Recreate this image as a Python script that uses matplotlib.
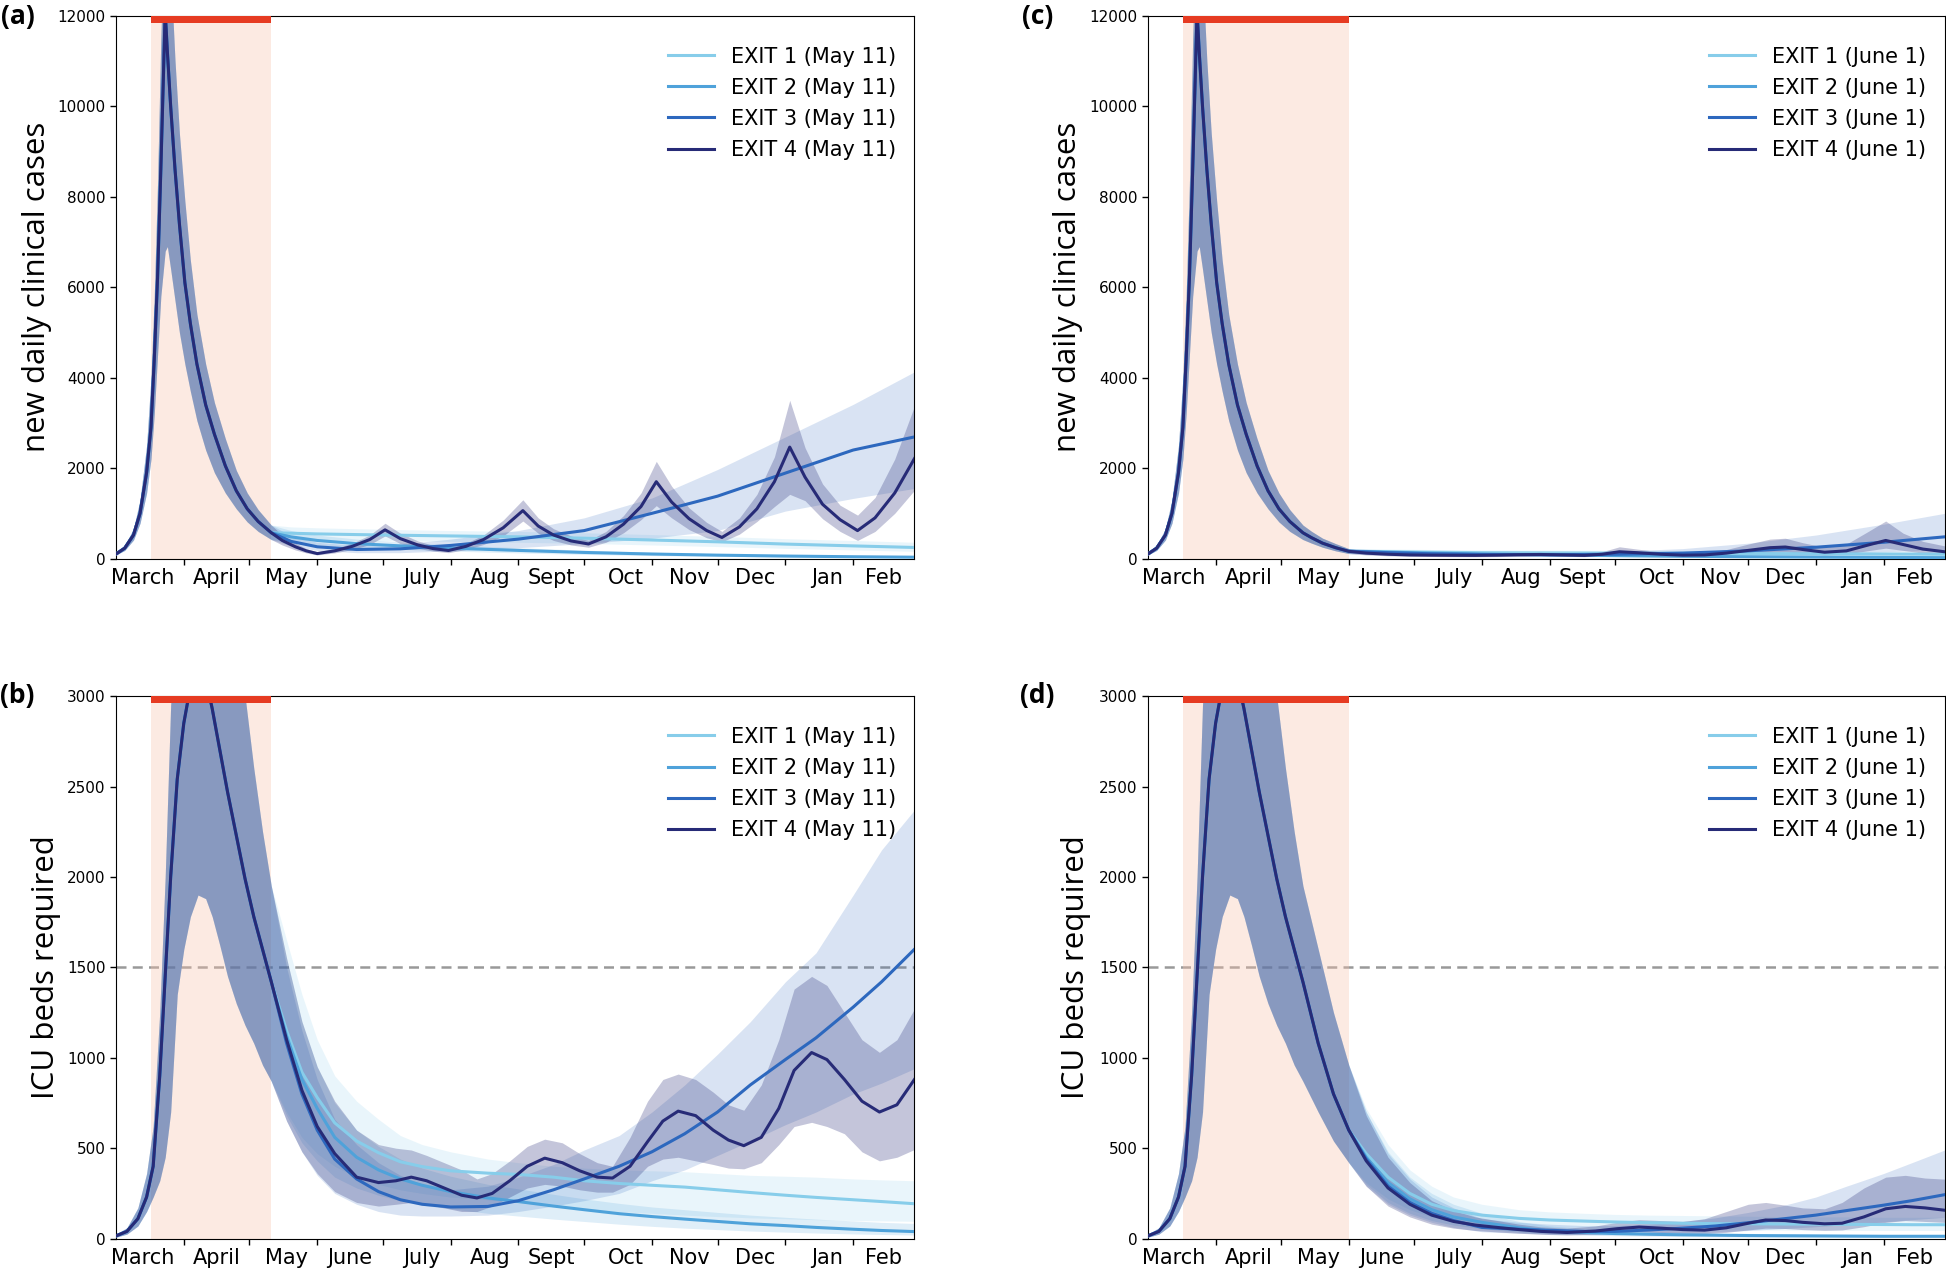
import numpy as np
import matplotlib
matplotlib.use("Agg")
import matplotlib.pyplot as plt

# day 0 = 1 March 2020
lockdown_start = 16
exit_may11 = 71
exit_june1 = 92
icu_capacity = 1500

month_starts = [31, 61, 92, 122, 153, 184, 214, 245, 275, 306, 337]
month_label_days = [12, 46, 78, 107, 140, 171, 199, 233, 262, 292, 325, 351]
month_names = ["March", "April", "May", "June", "July", "Aug", "Sept",
               "Oct", "Nov", "Dec", "Jan", "Feb"]

exit_colors = ["#87cdea", "#4fa2da", "#2d68be", "#272b77"]
band_alpha = [0.18, 0.18, 0.18, 0.27]

# ---------------- new daily clinical cases, common part (to May 11) ----------------
cases_pre_days = [0, 4, 8, 11, 14, 16, 17.5, 19, 20.5, 22.5, 23.5, 25, 27, 29, 31.5,
                  34, 37, 41, 45, 50, 55, 60, 65, 71]
cases_pre = [100, 230, 520, 1000, 1900, 2900, 4400, 6200, 8600, 12100, 11200, 10000,
             8600, 7400, 6100, 5200, 4300, 3400, 2750, 2050, 1500, 1100, 820, 570]
cases_pre_lo = [80, 180, 410, 780, 1450, 2200, 3200, 4500, 5800, 6800, 6900, 6400,
                5700, 5000, 4300, 3700, 3050, 2400, 1900, 1450, 1100, 810, 600, 420]
cases_pre_hi = [125, 290, 660, 1300, 2500, 4000, 5800, 8300, 11500, 14500, 14000,
                13000, 11000, 9400, 7900, 6600, 5400, 4300, 3450, 2650, 1950, 1450,
                1080, 740]
# lockdown continued to June 1
cases_ext_days = [71, 75, 80, 86, 92]
cases_ext = [570, 460, 340, 240, 160]
cases_ext_lo = [420, 340, 250, 170, 110]
cases_ext_hi = [740, 600, 450, 330, 220]

# ---------------- (a) cases, exit May 11 ----------------
a_days = [71, 80, 92, 110, 130, 153, 184, 214, 245, 275, 306, 337, 365]
a_exit1 = [570, 560, 545, 530, 515, 500, 480, 450, 410, 370, 320, 280, 245]
a_exit1_lo = [420, 420, 410, 400, 390, 380, 360, 335, 300, 265, 225, 190, 160]
a_exit1_hi = [740, 700, 680, 660, 640, 620, 600, 570, 530, 490, 440, 400, 360]
a_exit2 = [570, 480, 400, 330, 280, 230, 180, 135, 100, 75, 55, 40, 30]
a_exit2_lo = [420, 360, 300, 245, 205, 165, 125, 92, 66, 48, 35, 25, 18]
a_exit2_hi = [740, 620, 520, 430, 370, 300, 240, 185, 140, 105, 80, 60, 45]
a_exit3 = [570, 380, 260, 200, 215, 290, 430, 618, 1000, 1380, 1890, 2400, 2690]
a_exit3_lo = [420, 280, 180, 130, 130, 170, 240, 330, 450, 620, 1050, 1330, 1550]
a_exit3_hi = [740, 500, 360, 290, 320, 430, 620, 900, 1340, 1970, 2690, 3410, 4130]
a_days4 = [71, 76, 82, 87, 92, 100, 108, 116, 123, 130, 138, 145, 152, 160, 168, 177,
           186, 193, 200, 208, 216, 224, 232, 240, 247, 254, 262, 270, 277, 285, 293,
           301, 308, 315, 323, 331, 339, 347, 356, 365]
a_exit4 = [570, 400, 260, 170, 110, 170, 270, 420, 635, 440, 300, 220, 178, 270, 420,
           680, 1060, 720, 520, 390, 322, 480, 760, 1150, 1700, 1250, 880, 620, 466,
           700, 1100, 1700, 2465, 1800, 1200, 860, 618, 900, 1450, 2210]
a_exit4_lo = [420, 300, 190, 125, 80, 125, 200, 310, 500, 330, 225, 165, 130, 200, 310,
              500, 830, 560, 400, 300, 250, 360, 570, 860, 1170, 900, 640, 460, 370,
              540, 820, 1150, 1420, 1280, 880, 600, 400, 600, 1000, 1510]
a_exit4_hi = [740, 520, 340, 220, 150, 220, 340, 520, 780, 560, 390, 290, 230, 340, 520,
              850, 1300, 900, 660, 500, 400, 600, 950, 1450, 2150, 1600, 1120, 800, 600,
              900, 1420, 2250, 3500, 2450, 1650, 1180, 960, 1350, 2200, 3370]

# ---------------- (c) cases, exit June 1 ----------------
c_days = [92, 110, 130, 153, 184, 214, 245, 275, 306, 337, 365]
c_exit1 = [160, 150, 140, 130, 125, 120, 115, 110, 105, 100, 95]
c_exit1_lo = [110, 100, 92, 85, 80, 75, 70, 66, 62, 58, 55]
c_exit1_hi = [220, 210, 200, 190, 185, 180, 175, 170, 165, 160, 155]
c_exit2 = [160, 140, 120, 100, 80, 65, 50, 40, 32, 25, 20]
c_exit2_lo = [110, 95, 80, 66, 52, 41, 32, 25, 19, 15, 12]
c_exit2_hi = [220, 195, 170, 145, 118, 97, 78, 62, 50, 40, 33]
c_exit3 = [160, 130, 105, 90, 85, 95, 120, 170, 250, 360, 480]
c_exit3_lo = [110, 90, 70, 60, 55, 55, 65, 85, 110, 150, 190]
c_exit3_hi = [220, 180, 150, 130, 130, 160, 220, 340, 520, 760, 1000]
c_days4 = [92, 100, 110, 120, 130, 140, 150, 160, 170, 180, 190, 200, 208, 216, 224,
           235, 245, 255, 265, 275, 285, 292, 300, 310, 320, 330, 338, 346, 355, 365]
c_exit4 = [160, 120, 95, 80, 75, 72, 70, 75, 85, 90, 80, 70, 95, 150, 130, 95, 75, 80,
           120, 180, 240, 255, 200, 140, 170, 300, 400, 310, 210, 150]
c_exit4_lo = [110, 80, 60, 50, 45, 42, 40, 44, 50, 55, 48, 42, 55, 90, 80, 56, 44, 48,
              70, 105, 140, 150, 115, 80, 100, 175, 230, 180, 120, 90]
c_exit4_hi = [220, 170, 135, 115, 105, 100, 100, 110, 125, 135, 120, 105, 150, 260, 210,
              150, 120, 130, 200, 320, 430, 450, 350, 250, 320, 600, 830, 560, 380, 280]

# ---------------- ICU beds, common part (to May 11) ----------------
icu_pre_days = [0, 5, 10, 14, 17, 20, 22.5, 25, 28, 31, 34, 37.5, 41, 44, 47.5, 51, 55,
                59, 63, 67, 71]
icu_pre = [15, 40, 110, 230, 400, 900, 1450, 2000, 2540, 2850, 3050, 3150, 3100, 2930,
           2700, 2470, 2230, 1990, 1780, 1600, 1420]
icu_pre_lo = [8, 25, 70, 150, 230, 320, 450, 700, 1350, 1600, 1780, 1900, 1880, 1780,
              1620, 1450, 1300, 1180, 1080, 960, 870]
icu_pre_hi = [25, 60, 170, 360, 620, 1250, 2000, 2950, 3500, 3800, 3950, 4000, 3950,
              3800, 3600, 3450, 3300, 3000, 2600, 2250, 1950]
icu_ext_days = [71, 78, 85, 92]
icu_ext = [1420, 1080, 800, 600]
icu_ext_lo = [870, 700, 540, 420]
icu_ext_hi = [1950, 1600, 1250, 960]

# ---------------- (b) ICU, exit May 11 ----------------
b_days = [71, 78, 85, 92, 100, 110, 120, 130, 140, 153, 170, 184, 200, 214, 230, 245,
          260, 275, 290, 306, 320, 337, 350, 365]
b_exit1 = [1420, 1150, 920, 780, 640, 540, 475, 425, 398, 375, 362, 355, 340, 320, 305,
           295, 285, 270, 255, 240, 228, 215, 205, 193]
b_exit1_lo = [870, 700, 560, 470, 400, 340, 300, 270, 250, 230, 215, 200, 180, 165, 150,
              140, 130, 122, 115, 110, 105, 100, 98, 96]
b_exit1_hi = [1950, 1650, 1350, 1100, 900, 760, 660, 570, 520, 480, 440, 420, 400, 390,
              380, 375, 370, 360, 350, 345, 340, 330, 325, 320]
b_exit2 = [1420, 1120, 880, 720, 560, 450, 380, 330, 295, 260, 225, 205, 180, 160, 138,
           122, 108, 95, 82, 72, 62, 52, 45, 39]
b_exit2_lo = [870, 680, 530, 430, 340, 280, 240, 210, 185, 165, 140, 125, 108, 95, 80,
              68, 58, 50, 42, 36, 31, 26, 23, 20]
b_exit2_hi = [1950, 1550, 1200, 950, 750, 600, 510, 440, 390, 345, 300, 275, 245, 220,
              195, 175, 160, 145, 130, 118, 108, 98, 90, 84]
b_exit3 = [1420, 1080, 800, 600, 440, 330, 260, 215, 190, 175, 178, 210, 270, 330, 400,
           480, 580, 700, 850, 990, 1110, 1280, 1420, 1600]
b_exit3_lo = [870, 650, 480, 350, 250, 190, 150, 130, 125, 125, 130, 150, 180, 210, 250,
              320, 380, 460, 540, 630, 700, 800, 860, 940]
b_exit3_hi = [1950, 1500, 1150, 880, 660, 520, 420, 350, 300, 270, 290, 340, 410, 490,
              570, 700, 850, 1020, 1200, 1420, 1580, 1900, 2150, 2370]
b_days4 = [71, 78, 85, 92, 100, 110, 120, 128, 135, 142, 150, 158, 165, 172, 180, 188,
           196, 204, 212, 220, 227, 235, 243, 250, 257, 265, 273, 280, 287, 295, 303,
           310, 318, 325, 333, 341, 349, 357, 365]
b_exit4 = [1420, 1100, 820, 620, 470, 340, 310, 320, 340, 320, 280, 240, 225, 250, 320,
           400, 445, 420, 375, 340, 335, 400, 536, 650, 705, 680, 600, 545, 514, 560,
           720, 930, 1029, 990, 880, 760, 700, 740, 880]
b_exit4_lo = [870, 650, 480, 360, 260, 200, 180, 190, 200, 190, 170, 150, 150, 180, 230,
              280, 300, 290, 270, 257, 257, 300, 400, 440, 450, 430, 410, 390, 386, 420,
              520, 620, 643, 620, 580, 480, 430, 450, 493]
b_exit4_hi = [1950, 1550, 1200, 950, 760, 600, 520, 500, 490, 460, 420, 380, 330, 360,
              430, 510, 550, 530, 470, 420, 400, 560, 760, 880, 910, 880, 810, 740, 710,
              850, 1100, 1380, 1450, 1400, 1250, 1100, 1030, 1100, 1270]

# ---------------- (d) ICU, exit June 1 ----------------
d_days = [92, 100, 110, 120, 130, 140, 153, 170, 184, 200, 214, 230, 245, 260, 275, 290,
          306, 320, 337, 350, 365]
d_exit1 = [600, 470, 340, 250, 190, 155, 130, 112, 103, 97, 92, 88, 85, 83, 82, 81, 80,
           79, 78, 77, 77]
d_exit1_lo = [420, 310, 220, 160, 120, 95, 80, 68, 62, 57, 54, 52, 50, 49, 48, 47, 46,
              46, 45, 45, 45]
d_exit1_hi = [960, 720, 520, 380, 290, 230, 190, 160, 148, 140, 134, 130, 128, 126, 124,
              122, 120, 120, 118, 118, 118]
d_exit2 = [600, 450, 310, 220, 160, 120, 90, 60, 42, 34, 28, 24, 21, 19, 17, 16, 15, 14,
           13, 13, 13]
d_exit2_lo = [420, 300, 200, 140, 100, 75, 55, 36, 25, 20, 16, 13, 11, 10, 9, 8, 8, 7, 7,
              7, 7]
d_exit2_hi = [960, 700, 480, 340, 250, 190, 140, 95, 70, 55, 46, 40, 35, 32, 29, 27, 25,
              24, 23, 22, 22]
d_exit3 = [600, 440, 290, 200, 140, 100, 62, 52, 46, 40, 40, 48, 58, 70, 88, 108, 130,
           155, 185, 210, 243]
d_exit3_lo = [420, 290, 190, 130, 90, 62, 38, 30, 25, 22, 22, 25, 30, 36, 45, 55, 66, 78,
              92, 105, 118]
d_exit3_hi = [960, 700, 470, 330, 230, 170, 110, 90, 80, 72, 72, 80, 95, 115, 145, 180,
              230, 290, 360, 420, 490]
d_days4 = [92, 100, 110, 120, 130, 140, 150, 160, 170, 180, 192, 205, 215, 225, 235, 245,
           255, 265, 275, 283, 292, 300, 310, 318, 328, 338, 347, 356, 365]
d_exit4 = [600, 430, 280, 190, 130, 95, 75, 62, 50, 40, 34, 42, 55, 64, 58, 50, 47, 60,
           85, 103, 100, 90, 82, 85, 120, 165, 178, 170, 157]
d_exit4_lo = [420, 290, 180, 120, 80, 58, 45, 37, 30, 24, 20, 25, 32, 38, 34, 30, 28, 35,
              48, 58, 56, 50, 46, 48, 66, 90, 100, 95, 90]
d_exit4_hi = [960, 680, 450, 310, 210, 155, 120, 100, 80, 65, 58, 70, 90, 105, 100, 95,
              110, 150, 190, 200, 185, 170, 165, 200, 280, 340, 350, 335, 329]


def join(d1, v1, d2, v2):
    # second piece starts on the last day of the first one
    return np.r_[d1, d2[1:]], np.r_[v1, v2[1:]]


def extend(pre, ext):
    d, _ = join(pre[0], pre[1], ext[0], ext[1])
    return (d,) + tuple(join(pre[0], p, ext[0], e)[1] for p, e in zip(pre[1:], ext[1:]))


def draw_panel(ax, pre, post, exit_day, exit_name, ymax, ylabel, capacity=None):
    pre_d, pre_m, pre_lo, pre_hi = pre
    if capacity is not None:
        ax.axhline(capacity, color="#999999", ls=(0, (4, 2.5)), lw=1.8, zorder=0.5)
    ax.axvspan(lockdown_start, exit_day, color="#f9c3ac", alpha=0.35, lw=0, zorder=0.6)
    for (d, m, lo, hi), c, al in zip(post, exit_colors, band_alpha):
        x, ylo = join(pre_d, pre_lo, d, lo)
        _, yhi = join(pre_d, pre_hi, d, hi)
        ax.fill_between(x, ylo, yhi, color=c, alpha=al, lw=0, zorder=1)
    for i, ((d, m, lo, hi), c) in enumerate(zip(post, exit_colors)):
        x, y = join(pre_d, pre_m, d, m)
        ax.plot(x, y, color=c, lw=2.2, zorder=3,
                label="EXIT %d (%s)" % (i + 1, exit_name))
    # red bar marking the lockdown
    ax.fill_between([lockdown_start, exit_day], ymax * 0.987, ymax,
                    color="#e63b22", lw=0, zorder=4)
    ax.set_xlim(0, 365)
    ax.set_ylim(0, ymax)
    ax.set_xticks(month_starts)
    ax.set_xticklabels([])
    ax.set_xticks(month_label_days, minor=True)
    ax.set_xticklabels(month_names, minor=True)
    ax.tick_params(axis="x", which="minor", length=0, labelsize=15, pad=7)
    ax.tick_params(axis="x", which="major", length=4, width=1)
    ax.tick_params(axis="y", length=4, width=1, labelsize=11)
    ax.set_ylabel(ylabel, fontsize=22.5, family="Open Sans")
    ax.legend(loc="upper right", bbox_to_anchor=(1.0, 0.978), frameon=False,
              fontsize=15, labelspacing=0.53, handlelength=2.2)


fig = plt.figure(figsize=(19.46, 12.70), dpi=100)
ax_a = fig.add_axes([0.0596, 0.5602, 0.4103, 0.4272])
ax_b = fig.add_axes([0.0596, 0.0247, 0.4103, 0.4272])
ax_c = fig.add_axes([0.5899, 0.5602, 0.4094, 0.4272])
ax_d = fig.add_axes([0.5899, 0.0247, 0.4094, 0.4272])

cases_pre_all = (cases_pre_days, cases_pre, cases_pre_lo, cases_pre_hi)
icu_pre_all = (icu_pre_days, icu_pre, icu_pre_lo, icu_pre_hi)
cases_pre_long = extend(cases_pre_all,
                        (cases_ext_days, cases_ext, cases_ext_lo, cases_ext_hi))
icu_pre_long = extend(icu_pre_all, (icu_ext_days, icu_ext, icu_ext_lo, icu_ext_hi))

draw_panel(ax_a, cases_pre_all,
           [(a_days, a_exit1, a_exit1_lo, a_exit1_hi),
            (a_days, a_exit2, a_exit2_lo, a_exit2_hi),
            (a_days, a_exit3, a_exit3_lo, a_exit3_hi),
            (a_days4, a_exit4, a_exit4_lo, a_exit4_hi)],
           exit_may11, "May 11", 12000, "new daily clinical cases")
draw_panel(ax_b, icu_pre_all,
           [(b_days, b_exit1, b_exit1_lo, b_exit1_hi),
            (b_days, b_exit2, b_exit2_lo, b_exit2_hi),
            (b_days, b_exit3, b_exit3_lo, b_exit3_hi),
            (b_days4, b_exit4, b_exit4_lo, b_exit4_hi)],
           exit_may11, "May 11", 3000, "ICU beds required", icu_capacity)
draw_panel(ax_c, cases_pre_long,
           [(c_days, c_exit1, c_exit1_lo, c_exit1_hi),
            (c_days, c_exit2, c_exit2_lo, c_exit2_hi),
            (c_days, c_exit3, c_exit3_lo, c_exit3_hi),
            (c_days4, c_exit4, c_exit4_lo, c_exit4_hi)],
           exit_june1, "June 1", 12000, "new daily clinical cases")
draw_panel(ax_d, icu_pre_long,
           [(d_days, d_exit1, d_exit1_lo, d_exit1_hi),
            (d_days, d_exit2, d_exit2_lo, d_exit2_hi),
            (d_days, d_exit3, d_exit3_lo, d_exit3_hi),
            (d_days4, d_exit4, d_exit4_lo, d_exit4_hi)],
           exit_june1, "June 1", 3000, "ICU beds required", icu_capacity)

ax_a.yaxis.set_label_coords(-0.080, 0.5)
ax_c.yaxis.set_label_coords(-0.082, 0.5)
ax_b.yaxis.set_label_coords(-0.069, 0.5)
ax_d.yaxis.set_label_coords(-0.071, 0.5)

for lab, x, y in [("(a)", 0.009, 0.987), ("(b)", 0.009, 0.452),
                  ("(c)", 0.533, 0.987), ("(d)", 0.533, 0.452)]:
    fig.text(x, y, lab, fontsize=19, fontweight="bold", family="Open Sans",
             ha="center", va="center")

fig.savefig("out.png", dpi=100)
